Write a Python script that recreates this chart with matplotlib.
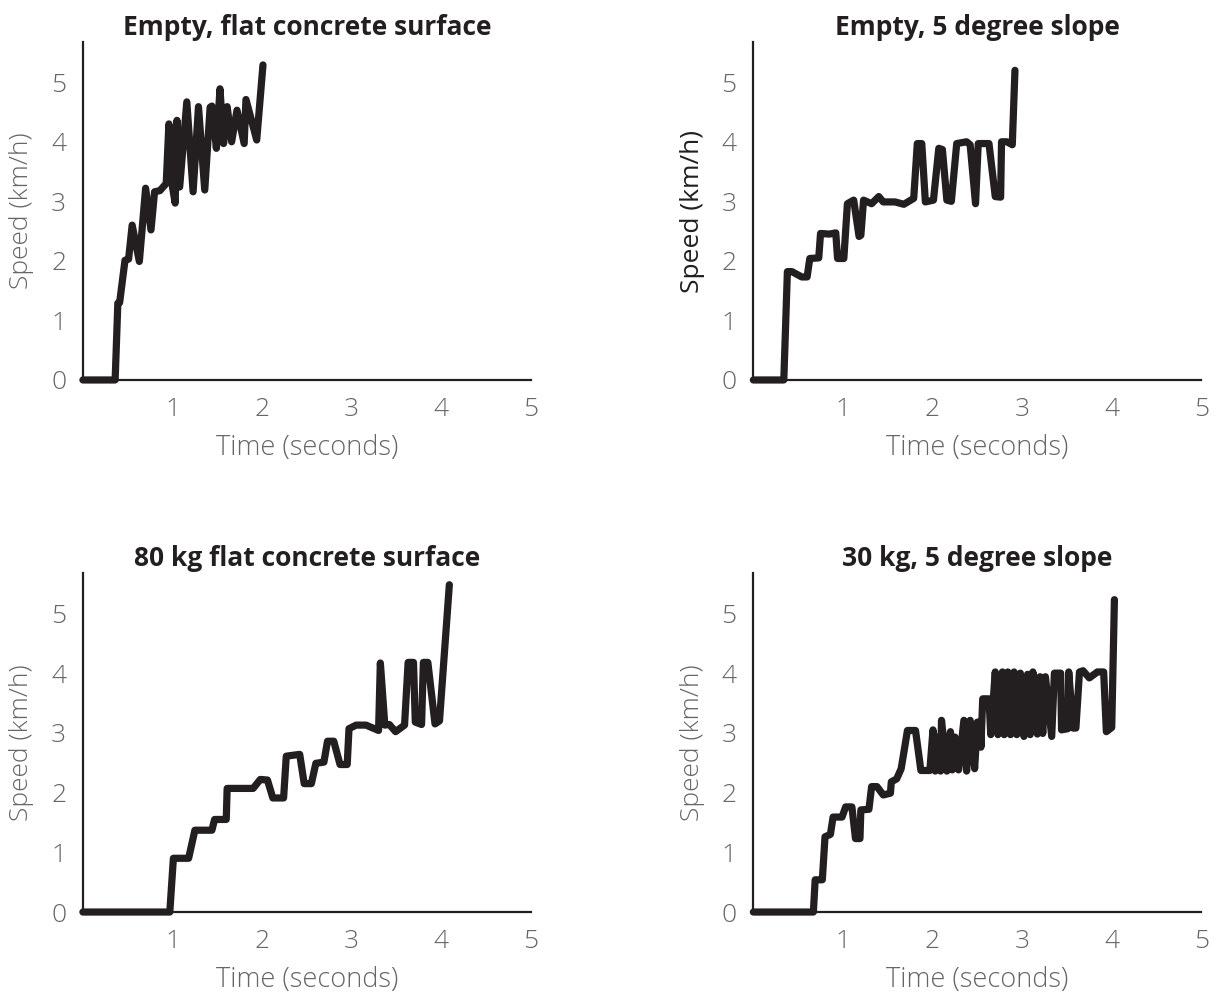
import numpy as np
import matplotlib
matplotlib.use("Agg")
import matplotlib.pyplot as plt

# speed traces (time in s, speed in km/h)
t_flat_empty = [0, 0.36, 0.39, 0.41, 0.47, 0.51, 0.55, 0.63, 0.70, 0.76, 0.80, 0.86, 0.93,
                0.96, 1.00, 1.03, 1.05, 1.08, 1.16, 1.23, 1.29, 1.36, 1.42, 1.44, 1.49, 1.53,
                1.57, 1.61, 1.66, 1.72, 1.80, 1.82, 1.94, 2.01]
v_flat_empty = [0, 0, 1.29, 1.30, 2.01, 2.03, 2.60, 1.99, 3.22, 2.52, 3.16, 3.18, 3.30,
                4.30, 3.24, 2.97, 4.36, 3.24, 4.67, 3.16, 4.59, 3.19, 4.58, 4.60, 3.89, 4.89,
                3.97, 4.59, 4.00, 4.53, 3.97, 4.71, 4.03, 5.29]

t_slope_empty = [0, 0.34, 0.38, 0.43, 0.54, 0.60, 0.63, 0.73, 0.75, 0.85, 0.92, 0.94, 1.01,
                 1.05, 1.12, 1.18, 1.20, 1.23, 1.32, 1.40, 1.45, 1.58, 1.68, 1.79, 1.83, 1.88,
                 1.92, 2.01, 2.07, 2.11, 2.16, 2.21, 2.27, 2.38, 2.42, 2.48, 2.51, 2.63, 2.70,
                 2.76, 2.77, 2.83, 2.89, 2.92]
v_slope_empty = [0, 0, 1.82, 1.82, 1.73, 1.73, 2.04, 2.05, 2.46, 2.45, 2.47, 2.04, 2.04,
                 2.96, 3.02, 2.41, 2.43, 3.02, 2.96, 3.08, 2.99, 2.99, 2.95, 3.05, 3.97, 3.97,
                 2.99, 3.02, 3.89, 3.87, 3.02, 3.00, 3.97, 4.00, 3.95, 2.96, 3.97, 3.97, 3.08,
                 3.07, 4.00, 4.00, 3.95, 5.20]

t_flat_80 = [0, 0.97, 1.01, 1.18, 1.25, 1.44, 1.47, 1.60, 1.61, 1.90, 1.98, 2.06, 2.12, 2.24,
             2.27, 2.42, 2.47, 2.55, 2.60, 2.69, 2.73, 2.80, 2.87, 2.95, 2.97, 3.05, 3.16,
             3.30, 3.32, 3.37, 3.42, 3.49, 3.59, 3.63, 3.69, 3.71, 3.78, 3.80, 3.85, 3.93,
             3.98, 4.09]
v_flat_80 = [0, 0, 0.90, 0.90, 1.37, 1.37, 1.55, 1.55, 2.07, 2.07, 2.22, 2.21, 1.91, 1.91,
             2.61, 2.64, 2.15, 2.15, 2.49, 2.51, 2.86, 2.86, 2.47, 2.47, 3.07, 3.13, 3.13,
             3.04, 4.17, 3.13, 3.14, 3.02, 3.13, 4.18, 4.18, 3.18, 3.14, 4.18, 4.18, 3.15,
             3.20, 5.48]

t_slope_30 = [0, 0.67, 0.69, 0.77, 0.80, 0.86, 0.89, 0.99, 1.03, 1.10, 1.14, 1.19, 1.20, 1.29,
              1.32, 1.38, 1.45, 1.53, 1.54, 1.60, 1.65, 1.72, 1.81, 1.87, 1.97, 2.005, 2.03,
              2.06, 2.09, 2.10, 2.16, 2.20, 2.22, 2.25, 2.29, 2.35, 2.38, 2.42, 2.47, 2.50,
              2.53, 2.54, 2.56, 2.63, 2.65, 2.70, 2.73, 2.78, 2.80, 2.84, 2.87, 2.91, 2.94,
              2.98, 3.02, 3.06, 3.09, 3.12, 3.17, 3.20, 3.23, 3.26, 3.33, 3.36, 3.43, 3.44,
              3.51, 3.52, 3.57, 3.60, 3.64, 3.68, 3.75, 3.84, 3.91, 3.94, 4.00, 4.03]
v_slope_30 = [0, 0, 0.54, 0.54, 1.26, 1.30, 1.59, 1.59, 1.76, 1.76, 1.23, 1.23, 1.71, 1.72,
              2.10, 2.10, 1.96, 1.99, 2.18, 2.23, 2.40, 3.04, 3.04, 2.37, 2.37, 3.05, 2.36,
              2.93, 2.36, 3.21, 2.36, 3.02, 2.38, 2.93, 2.38, 3.21, 2.36, 3.21, 2.40, 3.18,
              3.18, 2.76, 3.57, 3.57, 2.97, 4.02, 2.97, 4.02, 2.97, 4.02, 2.97, 4.02, 2.97,
              4.00, 2.94, 3.98, 2.97, 4.02, 2.98, 3.94, 2.99, 3.94, 2.94, 4.00, 4.00, 3.05,
              3.07, 4.02, 3.08, 3.08, 4.02, 4.04, 3.92, 4.02, 4.02, 3.02, 3.09, 5.23]

titles = ["Empty, flat concrete surface", "Empty, 5 degree slope",
          "80 kg flat concrete surface", "30 kg, 5 degree slope"]
series = [(t_flat_empty, v_flat_empty), (t_slope_empty, v_slope_empty),
          (t_flat_80, v_flat_80), (t_slope_30, v_slope_30)]
x_ticks = [1, 2, 3, 4, 5]
y_ticks = [0, 1, 2, 3, 4, 5]

plt.rcParams['font.family'] = ['Open Sans', 'DejaVu Sans']

fig = plt.figure(figsize=(12.19, 9.96), dpi=100)
boxes = [[0.068, 0.6185, 0.3675, 0.339], [0.618, 0.6185, 0.3675, 0.339],
         [0.068, 0.0843, 0.3675, 0.340], [0.618, 0.0843, 0.3675, 0.340]]

line_col = "#231f20"
grey = "#666666"

for i, box in enumerate(boxes):
    ax = fig.add_axes(box)
    t, v = series[i]
    ax.plot(t, v, color=line_col, lw=5.2, solid_capstyle='round', solid_joinstyle='round',
            clip_on=False, zorder=3)
    ax.set_xlim(0, 5)
    ax.set_ylim(0, 5.67)
    ax.set_xticks(x_ticks)
    ax.set_yticks(y_ticks)
    ax.tick_params(length=0, labelsize=19, labelcolor=grey, pad=12)
    for lab in ax.get_xticklabels() + ax.get_yticklabels():
        lab.set_fontweight(300)
    for s in ['top', 'right']:
        ax.spines[s].set_visible(False)
    for s in ['left', 'bottom']:
        ax.spines[s].set_color(line_col)
        ax.spines[s].set_linewidth(1.6)
    ax.set_title(titles[i], fontsize=19, fontweight='bold', color="#231f20", pad=5)
    ax.set_xlabel("Time (seconds)", fontsize=19.5, color=grey, fontweight=300, labelpad=9)
    if i == 1:
        ax.set_ylabel("Speed (km/h)", fontsize=19, color="#231f20", labelpad=12)
    else:
        ax.set_ylabel("Speed (km/h)", fontsize=19, color=grey, fontweight=300, labelpad=12)
    ax.set_facecolor("none")

fig.savefig("out.png", dpi=100)
